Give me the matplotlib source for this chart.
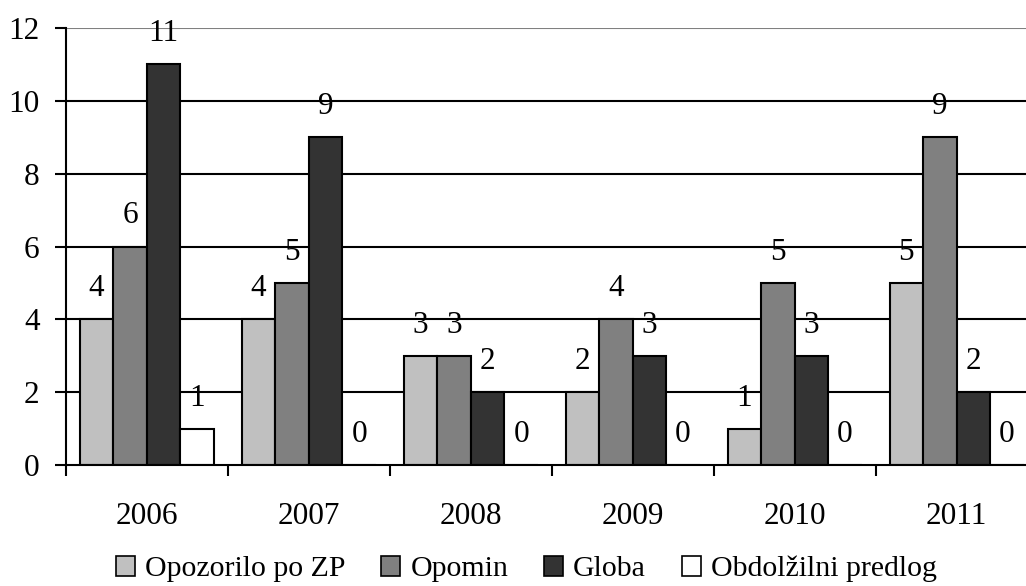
import matplotlib.pyplot as plt
from matplotlib.patches import Patch
import numpy as np

plt.rcParams['font.family'] = ['Liberation Serif', 'DejaVu Serif']

years = ['2006', '2007', '2008', '2009', '2010', '2011']
series_names = ['Opozorilo po ZP', 'Opomin', 'Globa', 'Obdolžilni predlog']
opozorilo = [4, 4, 3, 2, 1, 5]
opomin = [6, 5, 3, 4, 5, 9]
globa = [11, 9, 2, 3, 3, 2]
obdolzilni = [1, 0, 0, 0, 0, 0]
colors = ['#c0c0c0', '#808080', '#333333', '#ffffff']

fs = 22.5

fig = plt.figure(figsize=(10.26, 5.86), dpi=100)
ax = fig.add_axes([0.0643, 0.2065, 0.947, 0.7457])

x = np.arange(len(years))
w = 0.207
for k, (vals, c) in enumerate(zip([opozorilo, opomin, globa, obdolzilni], colors)):
    pos = x - 1.5 * w + k * w
    ax.bar(pos, vals, width=w, color=c, edgecolor='black', linewidth=1.5, zorder=3)
    for p, v in zip(pos, vals):
        ax.annotate(str(v), (p, v), xytext=(0, 22), textcoords='offset points',
                    ha='center', va='center', fontsize=fs, zorder=4)

ax.set_xlim(-0.5, 5.5)
ax.set_ylim(0, 12)
ax.set_yticks(range(0, 13, 2))
for yv in range(2, 12, 2):
    ax.axhline(yv, color='black', linewidth=1.5, zorder=1)
ax.axhline(12, color='#808080', linewidth=1.5, zorder=1)

ax.set_xticks(x)
ax.set_xticklabels(years)
ax.set_xticks(np.arange(-0.5, 6.0, 1.0), minor=True)
ax.tick_params(axis='x', which='major', length=0, pad=27, labelsize=fs)
ax.tick_params(axis='x', which='minor', length=8, width=1.5, direction='out')
ax.tick_params(axis='y', length=8, width=1.5, direction='out', pad=11, labelsize=fs)

for s in ['top', 'right']:
    ax.spines[s].set_visible(False)
for s in ['left', 'bottom']:
    ax.spines[s].set_linewidth(1.5)
    ax.spines[s].set_zorder(5)

handles = [Patch(facecolor=c, edgecolor='black', linewidth=1.2) for c in colors]
fig.legend(handles, series_names, loc='center', bbox_to_anchor=(0.513, 0.029),
           ncol=4, frameon=False, fontsize=21.5, handlelength=0.64, handleheight=0.64,
           handletextpad=0.33, columnspacing=1.2, borderaxespad=0)

fig.savefig('out.png', dpi=100)
